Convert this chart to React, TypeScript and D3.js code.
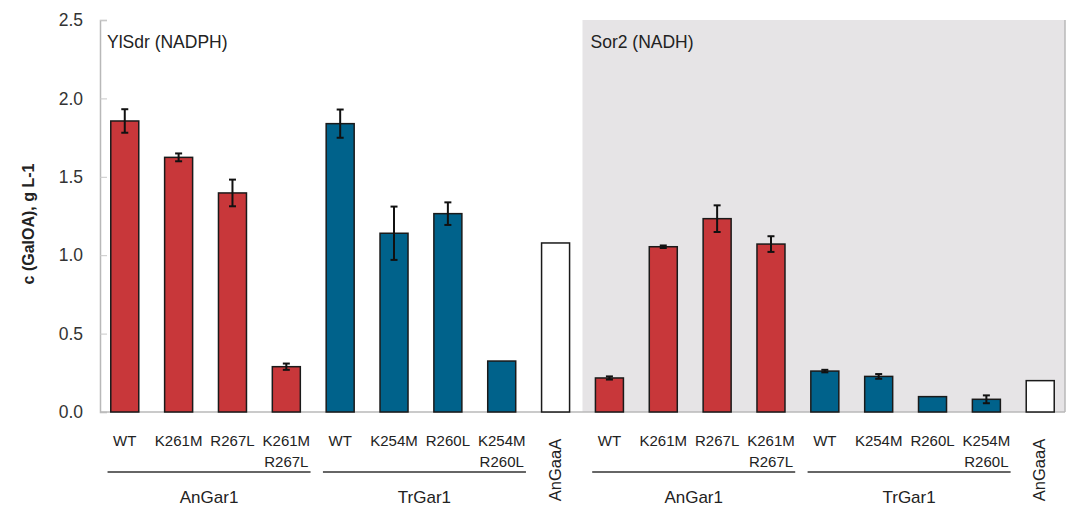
import React, { useEffect, useRef } from 'react';
import * as d3 from 'd3';

const panels = ['YlSdr (NADPH)', 'Sor2 (NADH)'];
const variants = ['WT', 'K261M', 'R267L', 'K261M R267L', 'WT', 'K254M', 'R260L', 'K254M R260L', 'AnGaaA'];
const enzymes = ['AnGar1', 'AnGar1', 'AnGar1', 'AnGar1', 'TrGar1', 'TrGar1', 'TrGar1', 'TrGar1', 'AnGaaA'];
const nadphValues = [1.856, 1.624, 1.397, 0.289, 1.839, 1.14, 1.265, 0.325, 1.078];
const nadphErrors = [0.075, 0.025, 0.085, 0.02, 0.09, 0.17, 0.072, 0, 0];
const nadhValues = [0.217, 1.054, 1.233, 1.071, 0.261, 0.227, 0.098, 0.081, 0.2];
const nadhErrors = [0.01, 0.008, 0.085, 0.05, 0.008, 0.015, 0, 0.025, 0];
const yTicks = [0, 0.5, 1.0, 1.5, 2.0, 2.5];

const colors: Record<string, string> = {
  AnGar1: '#c8373a',
  TrGar1: '#00628b',
  AnGaaA: '#ffffff',
};

const App = () => {
  const ref = useRef<SVGSVGElement>(null);
  const width = 1068;
  const height = 508;
  const margin = { top: 20, right: 3, bottom: 96, left: 100 };

  useEffect(() => {
    const svg = d3.select(ref.current);
    svg.selectAll('*').remove();

    const rows = panels.flatMap((p, pi) =>
      variants.map((v, i) => ({
        key: `${pi}-${i}`,
        panel: pi,
        label: v,
        enzyme: enzymes[i],
        value: pi === 0 ? nadphValues[i] : nadhValues[i],
        err: pi === 0 ? nadphErrors[i] : nadhErrors[i],
      }))
    );

    const x = d3
      .scaleBand()
      .domain(rows.map((d) => d.key))
      .range([margin.left, width - margin.right])
      .paddingInner(0.48)
      .paddingOuter(0.2);

    const y = d3
      .scaleLinear()
      .domain([0, 2.5])
      .range([height - margin.bottom, margin.top]);

    const step = x.step();
    const font = '"Liberation Sans", Arial, sans-serif';

    // Grey background for NADH panel
    const grayStart = x(rows[9].key)! - (step - x.bandwidth()) / 2;
    svg
      .append('rect')
      .attr('x', grayStart)
      .attr('y', y(2.5))
      .attr('width', width - margin.right - grayStart)
      .attr('height', y(0) - y(2.5))
      .attr('fill', '#e6e4e6')
      .attr('stroke', 'none');
    svg
      .append('line')
      .attr('x1', width - margin.right)
      .attr('x2', width - margin.right)
      .attr('y1', y(2.5))
      .attr('y2', y(0))
      .attr('stroke', '#b8b8b8')
      .attr('stroke-width', 1.5);

    // Y axis
    svg
      .append('g')
      .attr('transform', `translate(${margin.left},0)`)
      .call(
        d3
          .axisRight(y)
          .tickValues(yTicks)
          .tickSize(7)
          .tickFormat(() => '')
      )
      .call((g) => g.select('.domain').attr('stroke', '#b8b8b8').attr('stroke-width', 1.5))
      .call((g) => g.selectAll('.tick line').attr('stroke', '#c8c8c8'));

    svg
      .append('g')
      .selectAll('text')
      .data(yTicks)
      .enter()
      .append('text')
      .attr('x', 83)
      .attr('y', (d) => y(d))
      .attr('dy', '0.35em')
      .attr('text-anchor', 'end')
      .style('font-family', font)
      .style('font-size', '17.5px')
      .attr('fill', '#333')
      .text((d) => d3.format('.1f')(d));

    // X axis line
    svg
      .append('line')
      .attr('x1', margin.left)
      .attr('x2', width - margin.right)
      .attr('y1', y(0))
      .attr('y2', y(0))
      .attr('stroke', '#b8b8b8')
      .attr('stroke-width', 1.5);

    // Bars
    svg
      .append('g')
      .selectAll('rect')
      .data(rows)
      .enter()
      .append('rect')
      .attr('x', (d) => x(d.key)!)
      .attr('y', (d) => y(d.value))
      .attr('width', x.bandwidth())
      .attr('height', (d) => y(0) - y(d.value))
      .attr('fill', (d) => colors[d.enzyme])
      .attr('stroke', '#1a1a1a')
      .attr('stroke-width', 1.5);

    // Error bars
    const errs = svg
      .append('g')
      .selectAll('g')
      .data(rows.filter((d) => d.err > 0))
      .enter()
      .append('g')
      .attr('stroke', '#111')
      .attr('stroke-width', 2);
    errs
      .append('line')
      .attr('x1', (d) => x(d.key)! + x.bandwidth() / 2)
      .attr('x2', (d) => x(d.key)! + x.bandwidth() / 2)
      .attr('y1', (d) => y(d.value - d.err))
      .attr('y2', (d) => y(d.value + d.err));
    [-1, 1].forEach((s) => {
      errs
        .append('line')
        .attr('x1', (d) => x(d.key)! + x.bandwidth() / 2 - 3.5)
        .attr('x2', (d) => x(d.key)! + x.bandwidth() / 2 + 3.5)
        .attr('y1', (d) => y(d.value + s * d.err))
        .attr('y2', (d) => y(d.value + s * d.err));
    });

    // Panel labels
    panels.forEach((p, pi) => {
      svg
        .append('text')
        .attr('x', pi === 0 ? 107 : grayStart + 8)
        .attr('y', 48)
        .style('font-family', font)
        .style('font-size', '17.5px')
        .attr('fill', '#222')
        .text(p);
    });

    // Category labels
    rows.forEach((d) => {
      const cx = x(d.key)! + x.bandwidth() / 2;
      if (d.enzyme === 'AnGaaA') {
        svg
          .append('text')
          .attr('transform', `translate(${cx + 5},${470}) rotate(-90)`)
          .attr('text-anchor', 'middle')
          .style('font-family', font)
          .style('font-size', '16.5px')
          .attr('fill', '#222')
          .text(d.label);
        return;
      }
      d.label.split(' ').forEach((line, li) => {
        svg
          .append('text')
          .attr('x', cx)
          .attr('y', 446 + li * 21)
          .attr('text-anchor', 'middle')
          .style('font-family', font)
          .style('font-size', '15px')
          .attr('fill', '#222')
          .text(line);
      });
    });

    // Enzyme group lines + labels
    panels.forEach((p, pi) => {
      ['AnGar1', 'TrGar1'].forEach((enz) => {
        const members = rows.filter((d) => d.panel === pi && d.enzyme === enz);
        const first = x(members[0].key)! + x.bandwidth() / 2;
        const last = x(members[members.length - 1].key)! + x.bandwidth() / 2;
        const x1 = first - 0.32 * step;
        const x2 = last + 0.45 * step;
        svg
          .append('line')
          .attr('x1', x1)
          .attr('x2', x2)
          .attr('y1', 472)
          .attr('y2', 472)
          .attr('stroke', '#333')
          .attr('stroke-width', 1.5);
        svg
          .append('text')
          .attr('x', (x1 + x2) / 2)
          .attr('y', 503)
          .attr('text-anchor', 'middle')
          .style('font-family', font)
          .style('font-size', '17px')
          .attr('fill', '#222')
          .text(enz);
      });
    });

    // Y axis title
    svg
      .append('text')
      .attr('transform', `translate(34,${224}) rotate(-90)`)
      .attr('text-anchor', 'middle')
      .style('font-family', font)
      .style('font-size', '16px')
      .style('font-weight', 'bold')
      .attr('fill', '#222')
      .text('c (GalOA), g L-1');
  }, []);

  return (
    <svg
      ref={ref}
      width={width}
      height={height}
      style={{ position: 'absolute', left: 0, top: 0, background: '#fff' }}
    ></svg>
  );
};

export default App;
